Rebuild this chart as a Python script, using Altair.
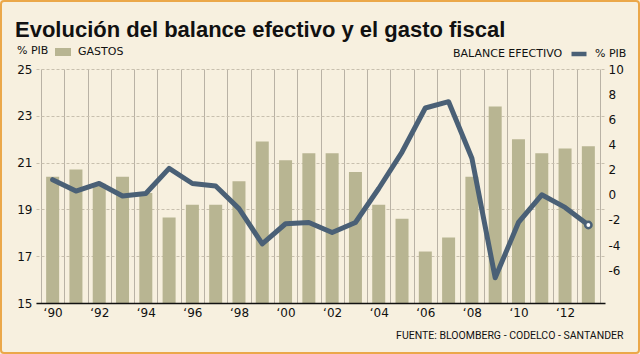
import altair as alt
import pandas as pd

# ---- data ----
years = list(range(1990, 2014))
gastos = [20.4, 20.7, 20.1, 20.4, 19.7, 18.65, 19.2, 19.2, 20.2, 21.9, 21.1, 21.4,
          21.4, 20.6, 19.2, 18.6, 17.2, 17.8, 20.4, 23.4, 22.0, 21.4, 21.6, 21.7]
balance = [1.2, 0.3, 0.9, -0.1, 0.1, 2.1, 0.9, 0.7, -1.1, -3.9, -2.3, -2.2,
           -3.0, -2.2, 0.5, 3.4, 6.9, 7.4, 2.9, -6.6, -2.2, 0.0, -1.0, -2.4]
year_ticks = list(range(1990, 2013, 2))
band_edges = [y + 0.5 for y in range(1989, 2014)]
left_ticks = [15, 17, 19, 21, 23, 25]
right_ticks = [-6, -4, -2, 0, 2, 4, 6, 8, 10]
bar_series = "GASTOS"
line_series = "% PIB"

TITLE = "Evolución del balance efectivo y el gasto fiscal"
FOOTER = "FUENTE: BLOOMBERG - CODELCO - SANTANDER"

BG = "#F7F0DF"
BAR = "#B8B592"
LINE = "#4A6076"
BORDER = "#EBA84A"
HGRID = "#C8C0AE"
VGRID = "#B9B2A5"
TXT = "#111111"
FONT = "DejaVu Sans"

df = pd.DataFrame({
    "year": years,
    "gastos": gastos,
    "balance": balance,
    "s1": [bar_series] * len(years),
    "s2": [line_series] * len(years),
})

xscale = alt.Scale(domain=[band_edges[0], band_edges[-1]], nice=False, zero=False)
yleft = alt.Scale(domain=[15, 25], nice=False, zero=False)
yright = alt.Scale(domain=[-8.6, 10], nice=False, zero=False)

frame = alt.Chart(df).transform_filter(alt.datum.year == years[0]).mark_rect(
    fillOpacity=0, stroke=BORDER, strokeWidth=2, cornerRadius=3
).encode(
    x=alt.value(-35), x2=alt.value(603), y=alt.value(-68), y2=alt.value(284)
)

bars = alt.Chart(df).mark_bar(size=13).encode(
    x=alt.X("year:Q", scale=xscale,
            axis=alt.Axis(orient="top", values=band_edges, grid=True, gridColor=VGRID,
                          gridWidth=1, labels=False, ticks=False, domain=False, title=None)),
    y=alt.Y("gastos:Q", scale=yleft,
            axis=alt.Axis(orient="left", values=left_ticks, grid=True, gridDash=[3, 2],
                          gridColor=HGRID, gridWidth=1, ticks=False, domain=False,
                          labelFont=FONT, labelFontSize=12, labelColor=TXT,
                          labelPadding=4, title=None)),
    y2=alt.datum(15),
    color=alt.Color("s1:N", scale=alt.Scale(range=[BAR]),
                    legend=alt.Legend(title="% PIB", titleOrient="left", orient="none",
                                      legendX=-19, legendY=-25, padding=0,
                                      symbolType="M-1,-0.5H1V0.5H-1Z", symbolSize=256,
                                      symbolStrokeWidth=0, symbolOpacity=1,
                                      labelFont=FONT, labelFontSize=11, labelColor=TXT,
                                      titleFont=FONT, titleFontSize=11, titleColor=TXT,
                                      titleFontWeight="normal", titlePadding=6,
                                      labelOffset=7, titleBaseline="middle")),
)

line = alt.Chart(df).mark_line(strokeWidth=5, strokeJoin="round", strokeCap="round").encode(
    x=alt.X("year:Q", scale=xscale,
            axis=alt.Axis(orient="bottom", values=year_ticks,
                          labelExpr="'\u2018' + substring(toString(datum.value), 2, 4)",
                          ticks=False, grid=False, domainColor=TXT, domainWidth=1.5,
                          labelFont=FONT, labelFontSize=12, labelColor=TXT, labelPadding=4,
                          title=FOOTER, titleX=587, titleY=35, titleAlign="right",
                          titleBaseline="alphabetic", titleFont="Roboto",
                          titleFontSize=10.5, titleFontWeight="normal", titleColor=TXT,
                          zindex=1)),
    y=alt.Y("balance:Q", scale=yright,
            axis=alt.Axis(orient="right", values=right_ticks, labelExpr="'' + datum.value",
                          ticks=False, domain=False, grid=False, labelFont=FONT,
                          labelFontSize=12, labelColor=TXT, labelPadding=3, title=None)),
    color=alt.Color("s2:N", scale=alt.Scale(range=[LINE]),
                    legend=alt.Legend(title="BALANCE EFECTIVO", titleOrient="left",
                                      orient="none", legendX=417, legendY=-25, padding=0,
                                      symbolType="stroke", symbolSize=225,
                                      symbolStrokeWidth=4.5, symbolOpacity=1,
                                      labelFont=FONT, labelFontSize=11, labelColor=TXT,
                                      titleFont=FONT, titleFontSize=11, titleColor=TXT,
                                      titleFontWeight="normal", titlePadding=6,
                                      labelOffset=6, titleBaseline="middle")),
)

last_pt = alt.Chart(df).transform_filter(alt.datum.year == years[-1]).mark_circle(
    fill="white", stroke=LINE, strokeWidth=2.5, size=40, opacity=1
).encode(
    x=alt.X("year:Q", scale=xscale, axis=None),
    y=alt.Y("balance:Q", scale=yright, axis=None),
)

chart = alt.layer(
    frame, bars, line, last_pt
).resolve_scale(
    y="independent", color="independent"
).resolve_axis(
    x="independent", y="independent"
).properties(
    width=569, height=234,
    autosize=alt.AutoSizeParams(type="none"),
    padding={"left": 36, "top": 69, "right": 35, "bottom": 51},
    background=BG,
    title=alt.Title(TITLE, anchor="start", font="Liberation Sans", fontSize=22,
                    fontWeight="bold", color=TXT, dx=15, dy=66, baseline="alphabetic",
                    offset=7),
).configure_view(strokeWidth=0)

chart.save("out.html", embed_options={"renderer": "svg", "actions": False})
